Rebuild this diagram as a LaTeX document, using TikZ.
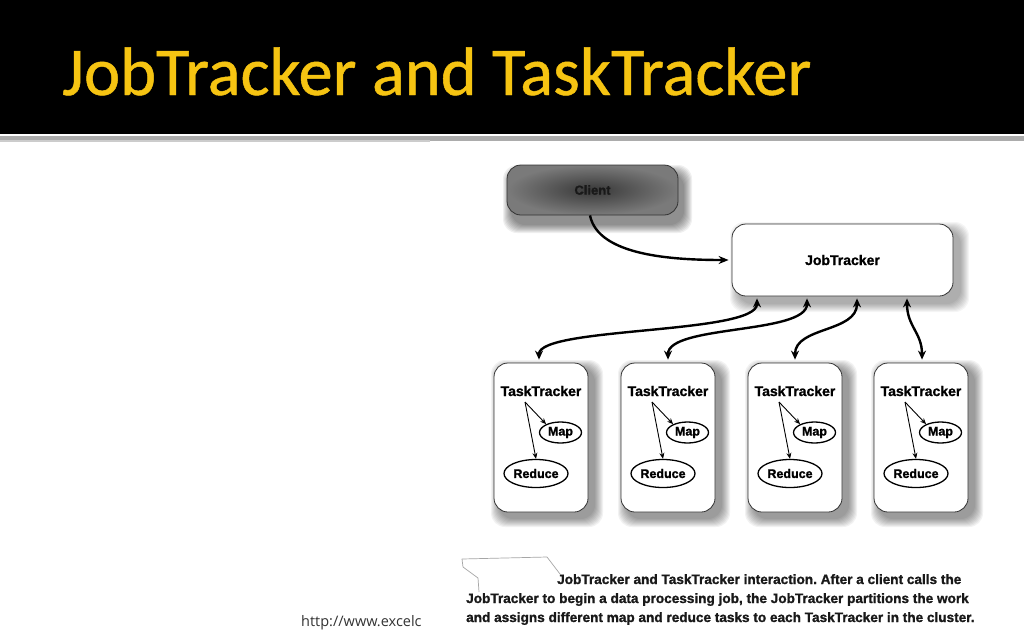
\documentclass[tikz,border=0pt]{standalone}
\usepackage{fontspec}
\usetikzlibrary{arrows.meta,shapes.geometric}
\newfontfamily\titlefont{Carlito}[FakeBold=0.7]
\newfontfamily\diafont{Liberation Sans}[BoldFeatures={FakeBold=1.2}]
\newfontfamily\urlfont{Open Sans}
\definecolor{titleyellow}{RGB}{246,196,18}
\newcommand{\mkshadow}[7]{%
  \foreach \k in {1,...,9}{%
    \fill[black,opacity=#7,rounded corners=14pt]
      ({#1+#5-\k},{#2+#6-\k}) rectangle ({#3+#5+\k},{#4+#6+\k});}}
\frenchspacing
\begin{document}
\begin{tikzpicture}[x=1pt,y=-1pt,
  box/.style={draw=black!80,line width=0.8pt,rounded corners=14pt,fill=white,
    font=\diafont\bfseries\fontsize{14}{14}\selectfont},
  ell/.style={draw=black,line width=1.3pt,ellipse,inner sep=0pt,
    font=\diafont\bfseries\fontsize{12.5}{12.5}\selectfont},
  lab/.style={font=\diafont\bfseries\fontsize{14}{14}\selectfont,inner sep=0pt},
  dbl/.style={line width=2.4pt,{Stealth[length=9pt,width=8pt]}-{Stealth[length=9pt,width=8pt]},shorten <=2pt,shorten >=3pt},
  small/.style={line width=0.9pt,-{Stealth[length=6pt,width=5pt]}},
  captext/.style={font=\diafont\bfseries\fontsize{13.6}{13.6}\selectfont,anchor=base west,inner sep=0pt,text=black!90}]
\useasboundingbox (0,0) rectangle (1024,640);
\fill[white] (0,0) rectangle (1024,640);
% header
\fill[black] (0,0) rectangle (1024,134);
\fill[gray!65] (0,136) rectangle (1024,141);
\fill[gray!40] (0,140) rectangle (430,142);
\node[anchor=base west,inner sep=0pt,text=titleyellow,font=\titlefont\fontsize{68.5}{68.5}\selectfont] (title) at (62,95) {JobTracker and TaskTracker};
% shadows
\mkshadow{507}{165}{678}{215}{5}{9}{0.06}
\mkshadow{732}{224}{953}{296}{7}{7}{0.04}
\mkshadow{494}{363}{588}{512}{6}{6}{0.05}
\mkshadow{621}{363}{715}{512}{6}{6}{0.05}
\mkshadow{748}{363}{842}{512}{6}{6}{0.05}
\mkshadow{874}{363}{968}{512}{6}{6}{0.05}
% client
\shade[rounded corners=14pt,inner color=black!78,outer color=black!52] (507,165) rectangle (678,215);
\node[draw=black!80,line width=0.8pt,rounded corners=14pt,minimum width=171pt,minimum height=50pt,
  font=\diafont\bfseries\fontsize{13}{13}\selectfont,text=black!90] (client) at (592.5,190) {Client};
% jobtracker
\node[box,minimum width=221pt,minimum height=72pt] (jt) at (842.5,260) {JobTracker};
% tasktrackers
\foreach \i/\x in {1/541,2/668,3/795,4/921}{
  \node[box,minimum width=94pt,minimum height=149pt] (tt\i) at (\x,437.5) {};
  \node[lab] (lab\i) at (\x,391) {TaskTracker};
  \node[ell,minimum width=42pt,minimum height=21pt] (map\i) at (\x+19.5,432.5) {Map};
  \node[ell,minimum width=64pt,minimum height=28pt] (red\i) at (\x-5,473.5) {Reduce};
  \coordinate (src\i) at (\x-16,402);
  \draw[small] (src\i) -- (map\i.150);
  \draw[small] (src\i) -- (red\i.north);
}
% client arrow
\draw[line width=2.4pt,-{Stealth[length=10pt,width=8pt]},shorten >=3pt] ([xshift=-2.5pt]client.south) .. controls +(8,40) and +(-60,0) .. (jt.west);
% JT to TT arrows
\draw[dbl] ([xshift=-85.5pt]jt.south) .. controls +(0,38) and +(0,-36) .. ([xshift=-2pt]tt1.north);
\draw[dbl] ([xshift=-35.5pt]jt.south) .. controls +(0,38) and +(0,-38) .. (tt2.north);
\draw[dbl] ([xshift=14.5pt]jt.south) .. controls +(0,36) and +(0,-36) .. (tt3.north);
\draw[dbl] ([xshift=64.5pt]jt.south) .. controls +(0,30) and +(0,-30) .. ([xshift=1pt]tt4.north);
% caption artifact
\draw[gray!70,line width=0.7pt,line join=round] (479,592) -- (478,578) -- (463,567) -- (462,559) -- (547,557) -- (560,574);
% caption
\node[captext] (cap1) at (557,584) {JobTracker and TaskTracker interaction. After a client calls the};
\node[captext] (cap2) at (466,603) {JobTracker to begin a data processing job, the JobTracker partitions the work};
\node[captext] (cap3) at (466,622) {and assigns different map and reduce tasks to each TaskTracker in the cluster.};
% url
\node[anchor=base west,inner sep=0pt,text=black!80,font=\urlfont\fontsize{14.5}{14.5}\selectfont] (url) at (301,626) {http://www.excelc};
\end{tikzpicture}
\end{document}
